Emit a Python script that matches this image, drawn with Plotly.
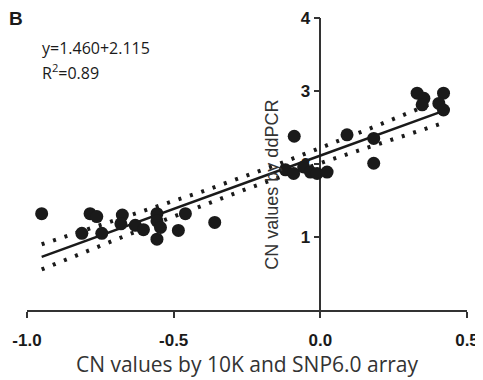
import numpy as np
import plotly.graph_objects as go

# Data
x_cn_array = [-0.95, -0.785, -0.762, -0.813, -0.745, -0.675, -0.68, -0.631, -0.603,
              -0.557, -0.557, -0.545, -0.557, -0.46, -0.484, -0.36,
              -0.089, -0.119, -0.091, -0.057, -0.034, -0.011, 0.023,
              0.091, 0.182, 0.182, 0.33, 0.353, 0.347, 0.42, 0.404, 0.42]
y_cn_ddpcr = [1.32, 1.32, 1.28, 1.05, 1.05, 1.30, 1.18, 1.16, 1.10,
              1.32, 1.22, 1.13, 0.97, 1.32, 1.09, 1.20,
              2.38, 1.92, 1.87, 1.96, 1.89, 1.87, 1.89,
              2.40, 2.35, 2.01, 2.97, 2.90, 2.81, 2.97, 2.83, 2.74]
slope = 1.460
intercept = 2.115
x_ticks = [-1.0, -0.5, 0.0, 0.5]
x_tick_text = ["-1.0", "-0.5", "0.0", "0.5"]
y_ticks = [1, 2, 3, 4]
y_tick_text = ["1", "2", "3", "4"]

xa = np.array(x_cn_array)
ya = np.array(y_cn_ddpcr)
n = len(xa)
xfit = np.linspace(xa.min(), xa.max(), 200)
yfit = intercept + slope * xfit
resid = ya - (intercept + slope * xa)
s = np.sqrt(np.sum(resid ** 2) / (n - 2))
xm = xa.mean()
sxx = np.sum((xa - xm) ** 2)
tval = 2.04
hw = tval * s * np.sqrt(1.0 / n + (xfit - xm) ** 2 / sxx)

fig = go.Figure()
dot_style = dict(color="#1a1a1a", width=4, dash="3px,9px")
fig.add_trace(go.Scatter(x=xfit, y=yfit + hw, mode="lines", line=dot_style, hoverinfo="skip"))
fig.add_trace(go.Scatter(x=xfit, y=yfit - hw, mode="lines", line=dot_style, hoverinfo="skip"))
fig.add_trace(go.Scatter(x=xfit, y=yfit, mode="lines", line=dict(color="#1a1a1a", width=2.5), hoverinfo="skip"))
fig.add_trace(go.Scatter(x=x_cn_array, y=y_cn_ddpcr, mode="markers",
                         marker=dict(color="#1a1a1a", size=13)))

tick_font = dict(family="Liberation Sans", size=17, color="#1a1a1a", weight="bold")

fig.update_layout(
    width=483, height=380,
    margin=dict(l=19, r=24, t=10, b=78),
    paper_bgcolor="white", plot_bgcolor="white",
    showlegend=False,
    xaxis=dict(range=[-1.0, 0.5], tickvals=x_ticks, ticktext=x_tick_text, automargin=False,
               showgrid=False, zeroline=False, showline=True, linecolor="#333333", linewidth=1.5,
               ticks="outside", ticklen=6, tickwidth=1.5, tickcolor="#333333",
               tickfont=tick_font, ticklabelstandoff=8, layer="below traces",
               title=dict(text="CN values by 10K and SNP6.0 array",
                          font=dict(family="Open Sans", size=21, color="#333333"), standoff=2)),
    yaxis=dict(range=[0, 4], tickvals=y_ticks, ticktext=y_tick_text, automargin=False,
               anchor="free", position=(0.0 + 1.0) / 1.5,
               showgrid=False, zeroline=False, showline=True, linecolor="#333333", linewidth=1.5,
               ticks="outside", ticklen=6, tickwidth=1.5, tickcolor="#333333",
               tickfont=tick_font, layer="below traces"),
    annotations=[
        dict(text="CN values by ddPCR", textangle=-90, x=-0.164, y=1.72, xref="x", yref="y",
             showarrow=False, font=dict(family="Liberation Sans", size=18, color="#333333")),
        dict(text="B", x=0, y=1, xref="paper", yref="paper", xanchor="left", yanchor="top",
             xshift=-20, yshift=12, showarrow=False,
             font=dict(family="Liberation Sans", size=19, color="#1a1a1a", weight="bold")),
        dict(text="y=1.460+2.115", x=-0.955, y=3.77, xref="x", yref="y",
             xanchor="left", yanchor="top", align="left", showarrow=False,
             font=dict(family="Open Sans", size=16, color="#1a1a1a")),
        dict(text="R<sup>2</sup>=0.89", x=-0.955, y=3.45, xref="x", yref="y",
             xanchor="left", yanchor="top", align="left", showarrow=False,
             font=dict(family="Open Sans", size=16, color="#1a1a1a")),
    ],
)
fig.write_html("out.html")
